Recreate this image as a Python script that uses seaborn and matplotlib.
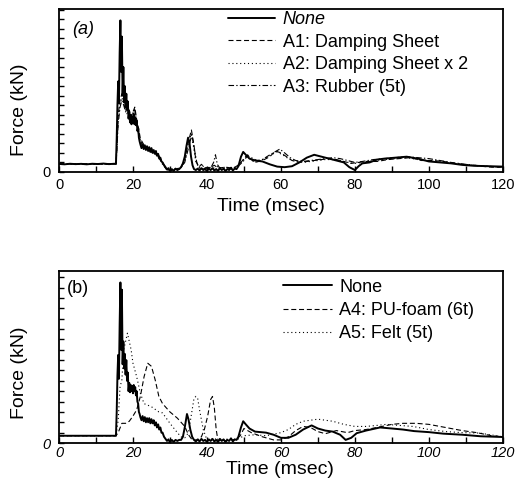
"""
Impact force histories for floor covering cases, panels (a) and (b)
"""

import matplotlib
matplotlib.use("Agg")
import matplotlib.pyplot as plt
from matplotlib.ticker import MultipleLocator
import seaborn as sns

sns.set_style("white")
plt.rcParams['font.family'] = ['Liberation Sans', 'DejaVu Sans']
plt.rcParams['text.color'] = 'black'
plt.rcParams['axes.labelcolor'] = 'black'
plt.rcParams['xtick.color'] = 'black'
plt.rcParams['ytick.color'] = 'black'

# ---- panel (a) data: time (msec) / force (arbitrary kN units) ----
t_a_none = [0, 1.5, 3, 4.5, 6, 7.5, 9, 10.5, 12, 13.5, 15, 15.4,
            15.6, 15.8, 16.0, 16.2, 16.4, 16.6, 16.8, 17.0, 17.2, 17.4,
            17.6, 17.8, 18.0, 18.2, 18.4, 18.6, 18.8, 19.0, 19.2, 19.4,
            19.6, 19.8, 20.0, 20.2, 20.4, 20.6, 20.8, 21.0, 21.2, 21.4,
            21.6, 21.8, 22.0, 22.3, 22.6, 22.9, 23.2, 23.5, 23.8, 24.1,
            24.4, 24.7, 25.0, 25.3, 25.6, 25.9, 26.2, 26.5, 26.8, 27.1,
            27.4, 27.7, 28.0, 28.4, 28.8, 29.2, 29.6, 30.0, 30.5, 31,
            31.5, 32, 32.5, 33, 33.5, 34, 34.5, 34.9, 35.3, 35.7,
            36.1, 36.5, 37, 37.5, 38, 38.5, 39, 39.5, 40, 40.5,
            41, 41.5, 42, 42.5, 43, 43.5, 44, 44.5, 45, 45.5,
            46, 46.5, 47, 47.5, 48, 48.5, 49.2, 49.8, 50.5, 51.5,
            53, 55, 57, 59, 61, 63, 65, 67, 69, 71,
            73, 75, 77, 78.5, 80, 81, 82, 84, 86, 88,
            91, 94, 97, 100, 103, 106, 109, 112, 116, 120]
f_a_none = [0.84, 0.8, 0.86, 0.82, 0.85, 0.8, 0.86, 0.83, 0.88, 0.82, 0.86, 0.84,
            3.5, 7.0, 9.5, 7.2, 12.5, 15.9, 10.5, 14.2, 8.0, 11.0,
            7.4, 9.0, 6.8, 8.2, 6.5, 7.4, 5.6, 6.3, 5.2, 6.0,
            5.0, 5.8, 5.2, 6.1, 5.0, 5.7, 4.9, 5.4, 4.3, 4.6,
            3.6, 3.2, 2.9, 2.5, 2.9, 2.4, 2.8, 2.3, 2.7, 2.2,
            2.6, 2.1, 2.5, 2.0, 2.3, 1.9, 2.2, 1.7, 1.9, 1.4,
            1.5, 1.1, 1.0, 0.7, 0.5, 0.25, 0.4, 0.05, 0.3, 0.1,
            0.35, 0.2, 0.3, 0.5, 0.9, 1.6, 2.8, 3.6, 3.0, 1.6,
            0.7, 0.3, 0.2, 0.35, 0.15, 0.4, 0.2, 0.3, 0.1, 0.35,
            0.2, 0.4, 0.15, 0.3, 0.1, 0.4, 0.2, 0.35, 0.1, 0.3,
            0.2, 0.45, 0.15, 0.35, 0.3, 0.6, 1.6, 2.1, 1.8, 1.4,
            1.2, 1.1, 0.8, 0.56, 0.5, 0.6, 1.0, 1.5, 1.8, 1.6,
            1.4, 1.2, 1.0, 0.5, 0.2, 0.6, 0.9, 1.0, 1.3, 1.4,
            1.5, 1.6, 1.4, 1.1, 1.0, 0.9, 0.74, 0.65, 0.6, 0.56]

t_a_a1 = [0, 15.4, 15.7, 16, 16.5, 17, 17.5, 18, 18.5, 19,
          19.5, 20, 20.5, 21, 21.5, 22, 23, 24, 25, 26,
          27, 28, 29, 30, 31, 32, 33, 34, 35, 35.8,
          36.5, 37, 37.8, 38.5, 39.5, 41, 42, 43, 45, 47,
          48, 49, 50, 51, 52, 53, 55, 57, 58.5, 60,
          61.5, 63, 65, 67, 69, 71, 73, 75, 77, 79,
          81, 83, 86, 89, 92, 95, 98, 101, 104, 107,
          110, 114, 117, 120]
f_a_a1 = [0.84, 0.84, 3.0, 6.0, 7.5, 8.2, 7.5, 6.8, 6.2, 6.5,
          5.8, 6.3, 6.8, 5.5, 4.6, 3.5, 2.8, 2.5, 2.3, 2.1,
          1.7, 1.0, 0.4, 0.15, 0.3, 0.25, 0.5, 1.3, 3.2, 4.4,
          2.8, 1.2, 0.5, 0.8, 0.4, 0.5, 0.7, 0.4, 0.5, 0.4,
          0.6, 0.9, 1.4, 1.8, 1.3, 1.0, 1.2, 1.6, 2.2, 2.0,
          1.6, 1.2, 1.0, 1.1, 1.2, 1.3, 1.4, 1.3, 1.1, 0.9,
          1.0, 1.1, 1.1, 1.3, 1.4, 1.5, 1.2, 1.2, 1.1, 0.9,
          0.75, 0.6, 0.5, 0.5]

t_a_a2 = [0, 15.4, 15.6, 16, 16.5, 17, 17.5, 18, 18.5, 19,
          19.5, 20, 20.5, 21, 21.5, 22, 23, 24, 25, 26,
          27, 28, 29, 30, 31, 32, 33, 34, 35, 35.7,
          36.4, 37, 38, 39, 40, 41, 42, 43, 44, 46,
          47.5, 48.5, 49.5, 50.5, 51.5, 53, 55, 57, 58.8, 60.5,
          62, 64, 66, 68, 70, 72, 74, 76, 78, 80,
          82, 85, 88, 91, 94, 97, 100, 104, 108, 112,
          116, 120]
f_a_a2 = [0.84, 0.84, 2.5, 5.5, 7.0, 7.8, 7.2, 6.5, 6.0, 6.2,
          5.6, 6.0, 6.6, 5.2, 4.3, 3.3, 2.7, 2.4, 2.2, 2.0,
          1.6, 0.9, 0.35, 0.1, 0.25, 0.3, 0.45, 1.1, 2.8, 4.0,
          2.6, 1.0, 0.4, 0.6, 0.35, 0.5, 0.4, 0.6, 0.3, 0.5,
          0.4, 0.7, 1.1, 1.6, 1.4, 1.0, 1.3, 1.7, 2.1, 1.8,
          1.4, 1.1, 1.0, 1.1, 1.2, 1.3, 1.3, 1.2, 1.0, 0.9,
          1.0, 1.2, 1.3, 1.4, 1.5, 1.3, 1.2, 1.0, 0.85, 0.7,
          0.6, 0.5]

t_a_a3 = [0, 15.4, 15.6, 16, 16.5, 17, 17.5, 18, 18.5, 19,
          19.5, 20, 20.5, 21, 21.5, 22, 23, 24, 25, 26,
          27, 28, 29, 30, 31, 32, 33, 34, 35, 35.9,
          36.6, 37.3, 38, 39, 40, 41, 41.8, 42.3, 42.8, 43.5,
          45, 46.5, 48, 49, 50, 51, 52, 53.5, 55, 57,
          59.7, 61, 62.5, 64, 66, 68, 70, 72, 74, 76,
          78, 80, 82, 85, 88, 91, 94, 97, 100, 103,
          106, 110, 115, 120]
f_a_a3 = [0.84, 0.84, 2.0, 5.0, 6.8, 7.5, 7.0, 6.3, 6.4, 6.0,
          5.9, 6.2, 6.5, 5.0, 4.0, 3.2, 2.6, 2.3, 2.1, 1.9,
          1.5, 0.8, 0.3, 0.1, 0.2, 0.35, 0.5, 1.0, 2.5, 3.9,
          2.4, 0.9, 0.4, 0.3, 0.5, 0.4, 1.0, 1.8, 0.8, 0.4,
          0.5, 0.3, 0.5, 0.8, 1.2, 1.7, 1.5, 1.2, 1.3, 1.8,
          2.4, 2.0, 1.5, 1.2, 1.1, 1.2, 1.3, 1.4, 1.5, 1.4,
          1.2, 1.0, 1.1, 1.3, 1.4, 1.5, 1.6, 1.5, 1.4, 1.2,
          1.0, 0.8, 0.6, 0.5]

# ---- panel (b) data ----
t_b_none = [0, 15.4, 15.6, 15.8, 16.0, 16.2, 16.4, 16.6, 16.8, 17.0,
            17.2, 17.4, 17.6, 17.8, 18.0, 18.2, 18.4, 18.6, 18.8, 19.0,
            19.2, 19.4, 19.6, 19.8, 20.0, 20.2, 20.4, 20.6, 20.8, 21.0,
            21.2, 21.4, 21.6, 21.8, 22.0, 22.3, 22.6, 22.9, 23.2, 23.5,
            23.8, 24.1, 24.4, 24.7, 25.0, 25.3, 25.6, 25.9, 26.2, 26.5,
            26.8, 27.1, 27.4, 27.7, 28.0, 28.4, 28.8, 29.2, 29.6, 30.0,
            30.5, 31, 31.5, 32, 32.5, 33, 33.5, 34, 34.6, 35.0,
            35.5, 36, 36.5, 37, 37.5, 38, 38.5, 39, 39.5, 40,
            40.5, 41, 41.5, 42, 42.5, 43, 43.5, 44, 44.5, 45,
            45.5, 46, 46.5, 47, 47.5, 48, 48.5, 49.2, 49.8, 50.5,
            51.5, 53, 56, 58, 60, 62, 64, 66, 68.3, 70,
            72, 74, 76, 77.5, 79, 80.5, 83, 86.8, 90, 93,
            96, 100, 104, 109, 114, 120]
f_b_none = [0.7, 0.7, 3.0, 6.5, 8.5, 6.2, 11.5, 15.5, 9.0, 14.8,
            7.6, 9.8, 7.2, 8.6, 6.6, 8.0, 6.0, 6.8, 5.0, 5.8,
            4.9, 5.6, 5.0, 5.5, 4.8, 5.6, 5.0, 5.4, 4.6, 5.0,
            4.0, 3.8, 3.0, 2.8, 2.5, 2.2, 2.6, 2.1, 2.5, 2.0,
            2.4, 2.0, 2.4, 1.9, 2.3, 1.9, 2.2, 1.7, 2.0, 1.5,
            1.8, 1.3, 1.5, 1.0, 1.0, 0.6, 0.4, 0.2, 0.35, 0.05,
            0.3, 0.1, 0.3, 0.2, 0.3, 0.3, 0.6, 1.5, 2.8, 2.3,
            1.3, 0.6, 0.3, 0.15, 0.35, 0.15, 0.4, 0.2, 0.3, 0.1,
            0.35, 0.2, 0.4, 0.15, 0.3, 0.1, 0.4, 0.2, 0.35, 0.1,
            0.3, 0.2, 0.45, 0.15, 0.35, 0.3, 0.6, 1.5, 2.1, 1.8,
            1.4, 1.1, 1.0, 0.8, 0.5, 0.5, 0.8, 1.3, 1.7, 1.4,
            1.2, 1.1, 0.8, 0.3, 0.5, 0.95, 1.2, 1.5, 1.4, 1.3,
            1.15, 1.05, 0.9, 0.8, 0.65, 0.58]

t_b_a4 = [0, 15.4, 16, 17, 18, 19, 20, 21, 22, 23,
          24, 25, 26, 27, 28, 30, 32, 34, 35, 36,
          37.5, 38.5, 39.3, 40.2, 41, 41.5, 42, 42.5, 43, 44,
          45, 46, 47, 48, 49, 50, 51, 52, 55, 58,
          60, 62, 64, 66, 68, 70, 72, 75, 78, 80,
          83, 86, 90, 93, 96.6, 100, 103, 106, 109, 113,
          117, 120]
f_b_a4 = [0.7, 0.7, 1.0, 1.9, 1.9, 2.1, 2.6, 3.2, 4.5, 6.4,
          7.7, 7.4, 6.1, 4.5, 3.8, 3.0, 2.4, 1.6, 0.8, 0.3,
          0.3, 0.6, 1.3, 2.6, 4.2, 4.5, 3.4, 1.3, 0.2, 0.3,
          0.2, 0.4, 0.3, 0.4, 0.7, 1.4, 1.2, 1.0, 0.6, 0.3,
          0.3, 0.6, 1.2, 1.6, 1.5, 1.1, 0.9, 1.2, 1.0, 1.2,
          1.3, 1.5, 1.8, 1.9, 1.9, 1.8, 1.6, 1.4, 1.2, 1.0,
          0.7, 0.6]

t_b_a5 = [0, 15.4, 16, 16.5, 17, 17.5, 18.5, 19.5, 20, 21,
          22, 23, 25, 27, 28, 30, 32, 33, 34, 35,
          36, 36.5, 37, 37.5, 38, 39, 40, 42, 44, 46,
          48, 50, 53, 56, 60, 62, 64, 66, 70, 74,
          77, 80, 83, 86, 88.5, 92, 95.7, 100, 104.7, 109,
          113.7, 120]
f_b_a5 = [0.7, 0.7, 2.2, 5.4, 6.1, 9.0, 10.6, 9.0, 7.7, 6.4,
          4.8, 3.8, 3.5, 3.0, 2.9, 1.9, 1.0, 0.6, 0.5, 1.0,
          3.2, 4.3, 4.5, 4.3, 3.2, 1.3, 0.3, 0.4, 0.3, 0.4,
          0.3, 0.7, 0.8, 0.7, 1.0, 1.3, 1.8, 2.1, 2.3, 2.1,
          1.8, 1.6, 1.6, 1.7, 1.8, 1.7, 1.6, 1.3, 1.1, 1.0,
          0.96, 0.6]

labels_a = ['None', 'A1: Damping Sheet', 'A2: Damping Sheet x 2', 'A3: Rubber (5t)']
labels_b = ['None', 'A4: PU-foam (6t)', 'A5: Felt (5t)']
x_ticks = [0, 20, 40, 60, 80, 100, 120]

SOLID = '-'
DASHED = (0, (4.5, 2.5))
DOTTED = (0, (1, 2.5))
DASHDOT = (0, (5, 2, 1.2, 2))


def draw_panel(ax, series, labels, ymax, italic_ticks=False, xpad=4):
    for (t, f, ls, lw), lab in zip(series, labels):
        assert len(t) == len(f), lab
        sns.lineplot(x=t, y=f, ax=ax, color='black', linestyle=ls, linewidth=lw,
                     label=lab, sort=False, estimator=None)
    ax.set_xlim(0, 120)
    ax.set_ylim(0, ymax)
    ax.set_xticks(x_ticks)
    ax.xaxis.set_minor_locator(MultipleLocator(10))
    ax.set_yticks([0])
    ax.yaxis.set_minor_locator(MultipleLocator(1))
    ax.tick_params(axis='both', which='both', direction='in', color='black',
                   labelcolor='black', top=False, right=False, bottom=True, left=True)
    ax.tick_params(axis='x', which='both', length=4, width=1, pad=xpad, labelsize=10.5)
    ax.tick_params(axis='y', which='both', length=3.5, width=1, pad=6, labelsize=10.5)
    for s in ax.spines.values():
        s.set_visible(True)
        s.set_color('black')
        s.set_linewidth(1.3)
    if italic_ticks:
        for lbl in ax.get_xticklabels() + ax.get_yticklabels():
            lbl.set_fontstyle('italic')


fig = plt.figure(figsize=(5.24, 4.83), dpi=100)
ax_a = fig.add_axes([0.1126, 0.644, 0.847, 0.3375])
ax_b = fig.add_axes([0.1126, 0.0828, 0.847, 0.356])

draw_panel(ax_a, [(t_a_none, f_a_none, SOLID, 1.4),
                  (t_a_a1, f_a_a1, DASHED, 0.8),
                  (t_a_a2, f_a_a2, DOTTED, 0.8),
                  (t_a_a3, f_a_a3, DASHDOT, 0.8)], labels_a, 17.1)
draw_panel(ax_b, [(t_b_none, f_b_none, SOLID, 1.4),
                  (t_b_a4, f_b_a4, DASHED, 0.8),
                  (t_b_a5, f_b_a5, DOTTED, 0.8)], labels_b, 16.6,
           italic_ticks=True, xpad=2)

# legends
leg_a = ax_a.legend(loc='upper left', bbox_to_anchor=(0.38, 0.985), frameon=False,
                    fontsize=13, handlelength=2.6, handletextpad=0.45,
                    labelspacing=0.3, borderpad=0, borderaxespad=0,
                    labelcolor='black')
leg_a.get_texts()[0].set_fontstyle('italic')
ax_b.legend(loc='upper left', bbox_to_anchor=(0.505, 0.955), frameon=False,
            fontsize=13, handlelength=2.7, handletextpad=0.4,
            labelspacing=0.35, borderpad=0, borderaxespad=0,
            labelcolor='black')

# axis labels
for ax, ly, xx, xy in [(ax_a, 0.38, 0.477, -0.16), (ax_b, 0.41, 0.498, -0.105)]:
    ax.set_ylabel('Force (kN)', fontsize=14, color='black')
    ax.yaxis.set_label_coords(-0.07, ly)
    ax.set_xlabel('Time (msec)', fontsize=14, color='black')
    ax.xaxis.set_label_coords(xx, xy)

ax_a.text(0.029, 0.875, '(a)', transform=ax_a.transAxes, fontsize=13,
          fontstyle='italic', va='center', ha='left', color='black')
ax_b.text(0.018, 0.898, '(b)', transform=ax_b.transAxes, fontsize=13,
          va='center', ha='left', color='black')

fig.savefig('out.png', dpi=100)
plt.close(fig)
